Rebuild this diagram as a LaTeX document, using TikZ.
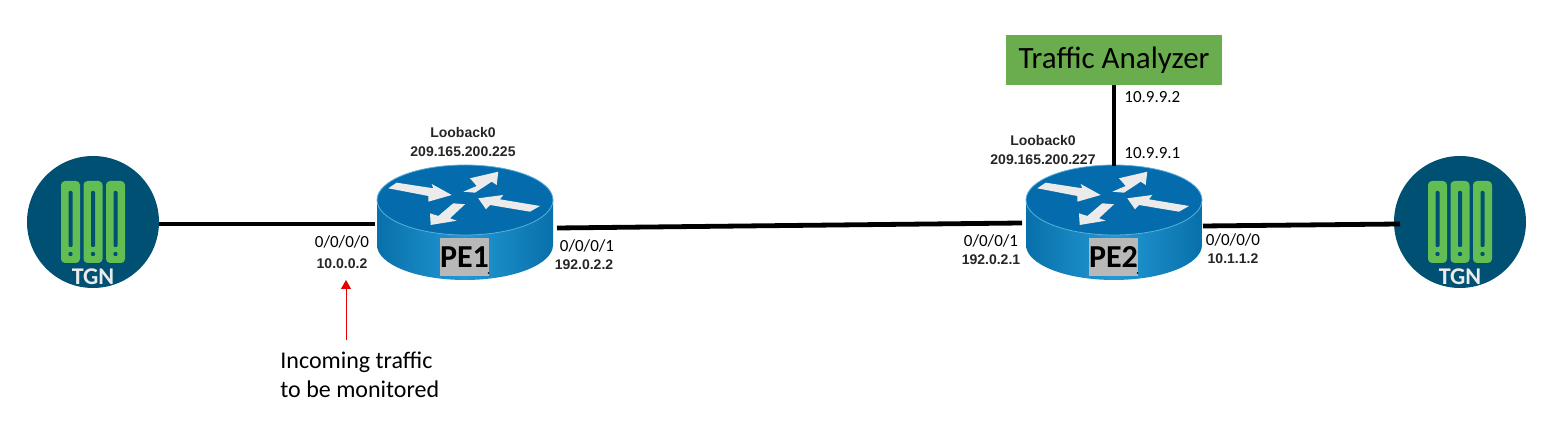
\documentclass[tikz,border=0pt]{standalone}
\usepackage{fontspec}
\setmainfont{Carlito}
\newfontfamily\arialfont{Liberation Sans}
\usepackage{tikz}
\usetikzlibrary{arrows.meta, positioning}
\definecolor{tgnblue}{RGB}{0,80,115}
\definecolor{tgngreen}{RGB}{98,190,82}
\definecolor{rtrtop}{RGB}{4,108,172}
\definecolor{rtredge}{RGB}{8,112,170}
\definecolor{rtrmid}{RGB}{34,152,212}
\definecolor{rtrrim}{RGB}{90,175,220}
\definecolor{analizer}{RGB}{106,173,78}
\tikzset{
  enlace/.style={line width=2.4pt, color=black},
  flecha/.style={-{Triangle[length=4.5pt, width=5pt]}, line width=0.5pt, color=red!90!black},
  puerto/.style={font=\fontsize{8.5}{10}\selectfont, inner sep=0pt},
  etiq/.style={font=\arialfont\bfseries\fontsize{7}{8.5}\selectfont, color=black!85, inner sep=0pt, align=center},
  nota/.style={font=\fontsize{12}{14}\selectfont, inner sep=0pt, align=left, anchor=west},
  analyzer/.style={rectangle, fill=analizer, inner sep=0pt, minimum width=108pt, minimum height=25pt,
    font=\fontsize{15.5}{18}\selectfont},
  etiqpe/.style={rectangle, fill=black!28, inner sep=0pt, minimum width=23.5pt, minimum height=19pt,
    font=\bfseries\fontsize{16}{18}\selectfont},
  flechita/.style={fill=white!92!black, draw=none},
  pics/router/.style={code={
    \shade[left color=rtredge, right color=rtredge, middle color=rtrmid]
      (-88,0) -- (-88,-45) arc[start angle=180, end angle=360, x radius=44pt, y radius=17.5pt]
      -- (88,0) -- cycle;
    \fill[rtrtop, draw=rtrrim, line width=0.4pt] (0,0) ellipse [x radius=44pt, y radius=17.5pt];
    \fill[flechita] (-76.7,11.7) -- (-68.3,17.3) -- (-31.7,11.7) -- (-33.3,16) -- (-13.3,5) -- (-36.7,-1.7) -- (-36.7,4) -- cycle;
    \fill[flechita] (33.3,28.3) -- (31.7,15) -- (26.7,18.3) -- (10,7.3) -- (-1.7,8.3) -- (11.7,14) -- (5,21.7) -- cycle;
    \fill[flechita] (13.3,1.7) -- (38.3,5) -- (35,0.7) -- (75,-6) -- (65,-11.7) -- (25,-5) -- (21,-9.3) -- cycle;
    \fill[flechita] (-34.3,-25) -- (-35,-13.3) -- (-26.7,-16) -- (-11.7,-3.3) -- (0,-4.3) -- (-15,-18.3) -- (-8.3,-20.7) -- cycle;
    \node[inner sep=0pt, outer sep=0pt, minimum width=89pt, minimum height=30pt] (-body) at (0,-26) {};
    \node[etiqpe] (-tag) at (-0.5,-57) {#1};
    \fill[black] (23.5,-73) circle (0.4pt);
  }},
  pics/tgn/.style={code={
    \node[circle, fill=tgnblue, inner sep=0pt, outer sep=0pt, minimum size=66pt] (-body) at (0,0) {};
    \foreach \barx in {-22.5,0,22.5} {
      \fill[tgngreen, rounded corners=2pt] (\barx-9.5,41) rectangle (\barx+9.5,-41);
      \fill[tgnblue, rounded corners=0.6pt] (\barx-2,31) rectangle (\barx+2,-25);
      \fill[tgnblue] (\barx,-32) circle (1.1pt);
    }
    \clip (0,0) circle (33pt);
    \node[text=white!92!black, font=\bfseries\fontsize{12}{13}\selectfont, inner sep=0pt] (-text) at (0,-55) {TGN};
  }}
}
\begin{document}
\begin{tikzpicture}[x=0.5pt, y=0.5pt]
  \useasboundingbox (0,0) rectangle (1549,438);

  \pic (tgna) at (93,216) {tgn};
  \pic (tgnb) at (1460,216) {tgn};
  \pic (pe1) at (465,238) {router=PE1};
  \pic (pe2) at (1114,238) {router=PE2};
  \node[analyzer] (ta) at (1114,378) {Traffic Analyzer};

  \draw[enlace] ([yshift=-1pt]tgna-body.east) -- ([xshift=-0.5pt,yshift=1pt]pe1-body.west);
  \draw[enlace] ([xshift=1.5pt,yshift=-1pt]pe1-body.east) -- ([xshift=-1.5pt,yshift=1.5pt]pe2-body.west);
  \draw[enlace] (pe2-body.east) -- ([xshift=3pt,yshift=-1pt]tgnb-body.west);
  \draw[enlace] (ta) -- ([yshift=15pt]pe2-body.north);

  \node[etiq] (lo1) at (463,296) {Looback0\\[1pt]209.165.200.225};
  \node[etiq] (lo2) at (1043,288) {Looback0\\[1pt]209.165.200.227};

  \node[puerto] (p1a) at (342,196) {0/0/0/0};
  \node[etiq, below=5pt of p1a] (ip1a) {10.0.0.2};
  \node[puerto] (p1b) at (587,192) {0/0/0/1};
  \node[etiq, below=3.5pt of p1b, xshift=-1.5pt] (ip1b) {192.0.2.2};
  \node[puerto] (p2a) at (991,197) {0/0/0/1};
  \node[etiq, below=3.5pt of p2a] (ip2a) {192.0.2.1};
  \node[puerto] (p2b) at (1233,198) {0/0/0/0};
  \node[etiq, below=3.5pt of p2b] (ip2b) {10.1.1.2};
  \node[puerto, anchor=west] (ip3) at (1124,341) {10.9.9.2};
  \node[puerto, anchor=west] (ip4) at (1124,285) {10.9.9.1};

  \node[nota] (monitor) at (280,63) {Incoming traffic\\[0.5pt]to be monitored};
  \coordinate (cola) at (346,98);
  \coordinate (punta) at (346,158);
  \draw[flecha] (cola) -- (punta);
\end{tikzpicture}
\end{document}
